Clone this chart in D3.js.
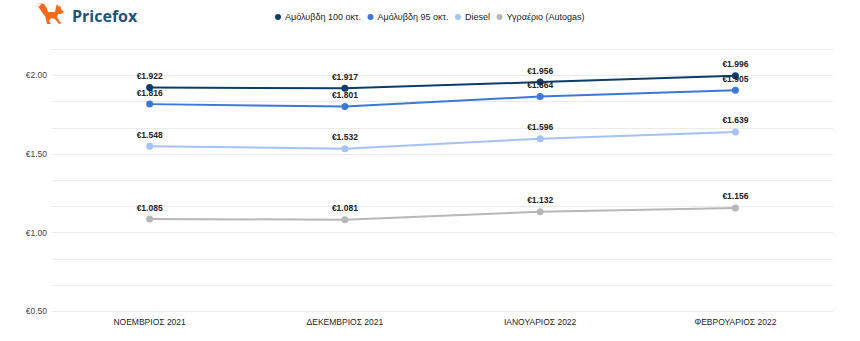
<!DOCTYPE html>
<html>
<head>
<meta charset="utf-8">
<script src="https://cdn.jsdelivr.net/npm/d3@7"></script>
<style>
html,body{margin:0;padding:0;background:#fff;}
svg{display:block;}
</style>
</head>
<body>
<svg id="chart" width="860" height="341"></svg>
<script>
const categories = ["ΝΟΕΜΒΡΙΟΣ 2021", "ΔΕΚΕΜΒΡΙΟΣ 2021", "ΙΑΝΟΥΑΡΙΟΣ 2022", "ΦΕΒΡΟΥΑΡΙΟΣ 2022"];
const seriesNames = ["Αμόλυβδη 100 οκτ.", "Αμόλυβδη 95 οκτ.", "Diesel", "Υγραέριο (Autogas)"];
const unleaded100 = [1.922, 1.917, 1.956, 1.996];
const unleaded95 = [1.816, 1.801, 1.864, 1.905];
const diesel = [1.548, 1.532, 1.596, 1.639];
const autogas = [1.085, 1.081, 1.132, 1.156];
const yTickLabels = [0.5, 1.0, 1.5, 2.0];
const seriesColors = ["#0b3d6b", "#3c78d8", "#a4c2f4", "#b7b7b7"];

(function(){
const series = [unleaded100, unleaded95, diesel, autogas].map((v, i) => ({name: seriesNames[i], values: v, color: seriesColors[i]}));

const svg = d3.select("#chart");
const font = "'Liberation Sans', Arial, sans-serif";
const pl = 52, pr = 833, pt = 49, pb = 311;

const x = d3.scaleBand().domain(categories).range([pl, pr]);
const y = d3.scaleLinear().domain([0.5, 0.5 + 10/6]).range([pb, pt]);

const gridVals = d3.range(11).map(i => 0.5 + i/6);
svg.append("g").selectAll("line").data(gridVals).join("line")
  .attr("x1", pl).attr("x2", pr)
  .attr("y1", d => Math.round(y(d)) + 0.5).attr("y2", d => Math.round(y(d)) + 0.5)
  .attr("stroke", "#ebebeb").attr("stroke-width", 1);

const yAxis = d3.axisLeft(y).tickValues(yTickLabels).tickSize(0).tickPadding(5)
  .tickFormat(d => "€" + d3.format(".2f")(d));
const ya = svg.append("g").attr("transform", `translate(${pl},0)`).call(yAxis);
ya.select(".domain").remove();
ya.selectAll("text").attr("font-family", font).attr("font-size", 8.5).attr("fill", "#444");

const xAxis = d3.axisBottom(x).tickSize(0).tickPadding(8);
const xa = svg.append("g").attr("transform", `translate(0,${pb})`).call(xAxis);
xa.select(".domain").remove();
xa.selectAll("text").attr("font-family", font).attr("font-size", 8.5).attr("fill", "#222");

const cx = d => x(d) + x.bandwidth() / 2;
const line = d3.line().x((d, i) => cx(categories[i])).y(d => y(d));

series.forEach(s => {
  svg.append("path").datum(s.values).attr("d", line)
    .attr("fill", "none").attr("stroke", s.color).attr("stroke-width", 2);
  svg.append("g").selectAll("circle").data(s.values).join("circle")
    .attr("cx", (d, i) => cx(categories[i])).attr("cy", d => y(d)).attr("r", 3.5)
    .attr("fill", s.color);
});
series.forEach(s => {
  svg.append("g").selectAll("text").data(s.values).join("text")
    .attr("x", (d, i) => cx(categories[i])).attr("y", d => y(d) - 8.5)
    .attr("text-anchor", "middle").attr("font-family", font).attr("font-size", 8.5)
    .attr("font-weight", "bold").attr("fill", "#222")
    .text(d => "€" + d3.format(".3f")(d));
});

const lg = svg.append("g").attr("transform", "translate(278,17)");
let lx = 0;
series.forEach(s => {
  const g = lg.append("g").attr("transform", `translate(${lx},0)`);
  g.append("circle").attr("r", 3).attr("cx", 0).attr("cy", 0).attr("fill", s.color);
  const t = g.append("text").attr("x", 7).attr("y", 3.2).attr("font-family", font)
    .attr("font-size", 9).attr("fill", "#222").text(s.name);
  lx += 6.5 + t.node().getComputedTextLength() + 10;
});

// logo: running fox
const logo = svg.append("g").attr("transform", "translate(37,3)");
logo.append("path").attr("fill", "#f26b1d")
  .attr("d", "M0,2 Q3,-1 7,1 Q10,4 11,9 L18,9 L19,4 L20,1 L22,4 L23,2 L24,6 L27,9 L24,11 L21,11 L20,14 L23,19 L25,20 L22,21 L18,16 L14,15 L12,18 L14,21 L10,21 L9,16 L8,13 Q5,10 3,6 Q1,4 0,2 Z");
logo.append("path").attr("fill", "#fff")
  .attr("d", "M0,2 Q2,0 5,0.5 Q3,2 2,4 Z");
logo.append("text").attr("x", 35).attr("y", 19).attr("font-family", "'Open Sans', sans-serif")
  .attr("font-weight", "bold").attr("font-size", 16).attr("fill", "#1d5577").text("Pricefox");
})();
</script>
</body>
</html>
